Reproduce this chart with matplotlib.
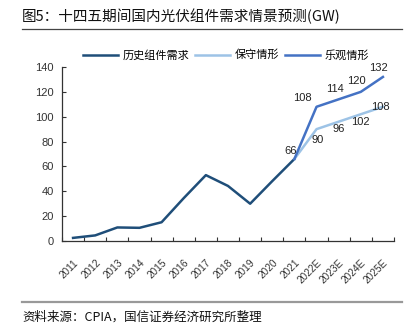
import matplotlib
matplotlib.use("Agg")
import matplotlib.pyplot as plt
import numpy as np

plt.rcParams['font.family'] = ['Noto Sans CJK SC', 'DejaVu Sans']

years = ["2011", "2012", "2013", "2014", "2015", "2016", "2017", "2018", "2019",
         "2020", "2021", "2022E", "2023E", "2024E", "2025E"]
history = [2.5, 4.5, 10.9, 10.6, 15.1, 34.5, 53, 44.3, 30, 48.2, 66]
conservative = [66, 90, 96, 102, 108]
optimistic = [66, 108, 114, 120, 132]

c_hist = "#1F4E79"
c_cons = "#9DC3E6"
c_opt = "#4472C4"

fig = plt.figure(figsize=(4.17, 3.28), dpi=100)
ax = fig.add_axes([62/417, 1-241/328, (394-62)/417, (241-67)/328])

x_hist = np.arange(len(history))
x_fc = np.arange(len(history)-1, len(years))
ax.plot(x_hist, history, color=c_hist, lw=1.8, label="历史组件需求")
ax.plot(x_fc, conservative, color=c_cons, lw=1.8, label="保守情形")
ax.plot(x_fc, optimistic, color=c_opt, lw=1.8, label="乐观情形")

numfont = ['Liberation Sans', 'DejaVu Sans']
lab_kw = dict(textcoords='offset points', fontsize=8, family=numfont, color='#222222')
# history end
ax.annotate(f"{history[-1]:g}", (x_hist[-1], history[-1]), xytext=(-3, 2), ha='center', va='bottom', **lab_kw)
# optimistic
opt_off = [(-10, 3), (-3, 4), (-3, 4), (-3, 3)]
for (xv, v), off in zip(zip(x_fc[1:], optimistic[1:]), opt_off):
    ax.annotate(f"{v:g}", (xv, v), xytext=off, ha='center', va='bottom', **lab_kw)
# conservative
cons_off = [(1, -4), (0, -2), (0, -2), (-2, 0)]
cons_va = ['top', 'top', 'top', 'center']
for (xv, v), off, va in zip(zip(x_fc[1:], conservative[1:]), cons_off, cons_va):
    ax.annotate(f"{v:g}", (xv, v), xytext=off, ha='center', va=va, **lab_kw)

ax.set_ylim(0, 140)
ax.set_yticks(np.arange(0, 141, 20))
ax.set_xlim(-0.5, len(years) - 0.5)
ax.set_xticks(np.arange(-0.5, len(years)))
ax.set_xticklabels([])
ax.set_xticks(np.arange(len(years)), minor=True)
ax.set_xticklabels(years, minor=True, rotation=45, ha='right', rotation_mode='anchor',
                   fontsize=7.2, family=numfont, color='#333333')
ax.tick_params(axis='x', which='minor', length=0, pad=12)
ax.tick_params(axis='x', which='major', length=3, direction='in', color='#333333')
ax.tick_params(axis='y', length=3, direction='in', labelsize=8, color='#333333',
               labelcolor='#333333', pad=6)
for lab in ax.get_yticklabels():
    lab.set_family(numfont)
for s in ['top', 'right']:
    ax.spines[s].set_visible(False)
for s in ['left', 'bottom']:
    ax.spines[s].set_color('#333333')
    ax.spines[s].set_linewidth(0.9)

leg = fig.legend(loc='center', bbox_to_anchor=(226/417, 1-55/328), ncol=3, frameon=False,
                 fontsize=8, handlelength=3.2, columnspacing=0.5, handletextpad=0.4)

fig.text(22/417, 1-16/328, "图5：十四五期间国内光伏组件需求情景预测(GW)", fontsize=10.5,
         va='center', ha='left', color='#111111')
fig.add_artist(plt.Line2D([22/417, 402/417], [1-29/328, 1-29/328], color='#444444', lw=0.9))
fig.add_artist(plt.Line2D([22/417, 402/417], [1-302/328, 1-302/328], color='#999999', lw=1.6))
fig.text(22/417, 1-317/328, "资料来源：CPIA，国信证券经济研究所整理", fontsize=9,
         va='center', ha='left', color='#111111')

fig.savefig("out.png", dpi=100)
